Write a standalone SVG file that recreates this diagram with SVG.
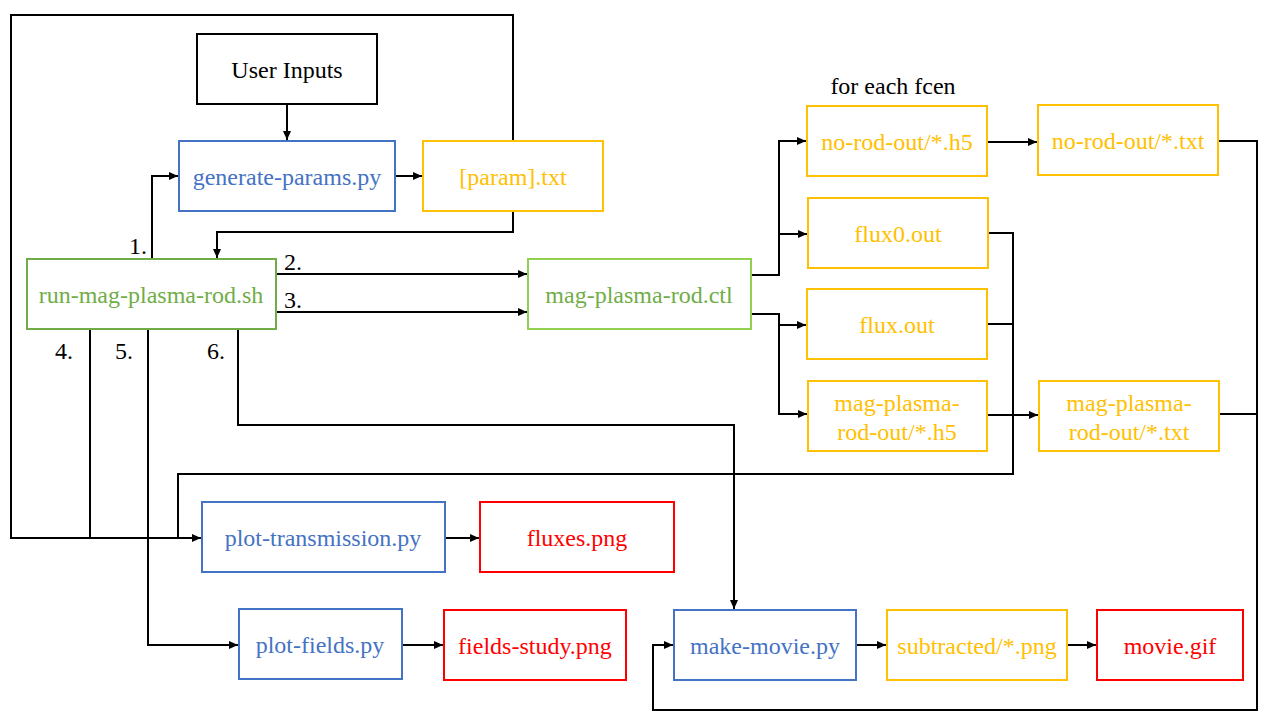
<svg xmlns="http://www.w3.org/2000/svg" width="1280" height="720" viewBox="0 0 1280 720">
<defs>
<marker id="ah" markerWidth="10" markerHeight="10" refX="9" refY="5" orient="auto" markerUnits="userSpaceOnUse">
<path d="M0,1 L9,5 L0,9 Z" fill="#000"/>
</marker>
<style>
rect{fill:#fff;stroke-width:2}
text{font-family:"Liberation Serif","Times New Roman",serif;font-size:24px;text-anchor:middle;dominant-baseline:central}
.k rect{stroke:#000}.k text{fill:#000}
.b rect{stroke:#4472C4}.b text{fill:#4472C4}
.o rect{stroke:#FFC000}.o text{fill:#FFC000}
.g rect{stroke:#70AD47}.g text{fill:#70AD47}
.lg rect{stroke:#92D050}.lg text{fill:#70AD47}
.r rect{stroke:#FF0000}.r text{fill:#FF0000}
.lbl{fill:#000}
#connectors path{fill:none;stroke:#000;stroke-width:2}
.ar{marker-end:url(#ah)}
</style>
</defs>
<rect x="0" y="0" width="1280" height="720" style="fill:#fff;stroke:none"/>
<g id="connectors">
<path class="ar" d="M287,104 V140"/>
<path class="ar" d="M152,259 V176 H178"/>
<path class="ar" d="M395,176 H422"/>
<path class="ar" d="M513,141 V15 H11 V538 H201"/>
<path class="ar" d="M513,211 V232 H217 V258"/>
<path class="ar" d="M276,274 H527"/>
<path class="ar" d="M276,312 H527"/>
<path d="M90,329 V538"/>
<path class="ar" d="M148,329 V645 H238"/>
<path class="ar" d="M238,329 V425 H734 V609"/>
<path class="ar" d="M751,275 H779 V141 H806"/>
<path class="ar" d="M779,234 H807"/>
<path class="ar" d="M751,314 H779 V414 H807"/>
<path class="ar" d="M779,325 H806"/>
<path class="ar" d="M987,142 H1037"/>
<path class="ar" d="M987,415 H1038"/>
<path d="M988,233 H1013 V474 H178 V538"/>
<path d="M987,324 H1013"/>
<path class="ar" d="M1218,141 H1257 V710 H653 V645 H673"/>
<path d="M1219,414 H1257"/>
<path class="ar" d="M856,645 H886"/>
<path class="ar" d="M1067,645 H1096"/>
<path class="ar" d="M445,538 H479"/>
<path class="ar" d="M402,645 H443"/>
</g>
<g id="user-inputs" class="k"><rect x="197" y="34" width="180" height="70"/><text x="287" y="70">User Inputs</text></g>
<g id="generate-params" class="b"><rect x="179" y="141" width="216" height="70"/><text x="287" y="177">generate-params.py</text></g>
<g id="param-txt" class="o"><rect x="423" y="141" width="180" height="70"/><text x="513" y="177">[param].txt</text></g>
<g id="run-sh" class="g"><rect x="27" y="259" width="249" height="70"/><text x="151" y="295">run-mag-plasma-rod.sh</text></g>
<g id="ctl" class="lg"><rect x="528" y="259" width="223" height="70"/><text x="639" y="295">mag-plasma-rod.ctl</text></g>
<text class="lbl" x="893" y="86">for each fcen</text>
<g id="norod-h5" class="o"><rect x="807" y="106" width="180" height="70"/><text x="897" y="142">no-rod-out/*.h5</text></g>
<g id="norod-txt" class="o"><rect x="1038" y="105" width="180" height="70"/><text x="1128" y="141">no-rod-out/*.txt</text></g>
<g id="flux0" class="o"><rect x="808" y="198" width="180" height="70"/><text x="898" y="234">flux0.out</text></g>
<g id="flux" class="o"><rect x="807" y="289" width="180" height="70"/><text x="897" y="325">flux.out</text></g>
<g id="mag-h5" class="o"><rect x="808" y="381" width="179" height="70"/><text x="897" y="403">mag-plasma-</text><text x="897" y="432">rod-out/*.h5</text></g>
<g id="mag-txt" class="o"><rect x="1039" y="381" width="180" height="70"/><text x="1129" y="403">mag-plasma-</text><text x="1129" y="432">rod-out/*.txt</text></g>
<g id="plot-transmission" class="b"><rect x="202" y="502" width="243" height="70"/><text x="323" y="538">plot-transmission.py</text></g>
<g id="fluxes-png" class="r"><rect x="480" y="502" width="194" height="70"/><text x="577" y="538">fluxes.png</text></g>
<g id="plot-fields" class="b"><rect x="239" y="609" width="163" height="70"/><text x="320" y="645">plot-fields.py</text></g>
<g id="fields-study" class="r"><rect x="444" y="610" width="182" height="70"/><text x="535" y="646">fields-study.png</text></g>
<g id="make-movie" class="b"><rect x="674" y="610" width="182" height="70"/><text x="765" y="646">make-movie.py</text></g>
<g id="subtracted" class="o"><rect x="887" y="610" width="180" height="70"/><text x="977" y="646">subtracted/*.png</text></g>
<g id="movie-gif" class="r"><rect x="1097" y="610" width="146" height="70"/><text x="1170" y="646">movie.gif</text></g>
<text class="lbl" x="138" y="246">1.</text>
<text class="lbl" x="293" y="262">2.</text>
<text class="lbl" x="293" y="300">3.</text>
<text class="lbl" x="64" y="351">4.</text>
<text class="lbl" x="124" y="351">5.</text>
<text class="lbl" x="216" y="351">6.</text>
</svg>
